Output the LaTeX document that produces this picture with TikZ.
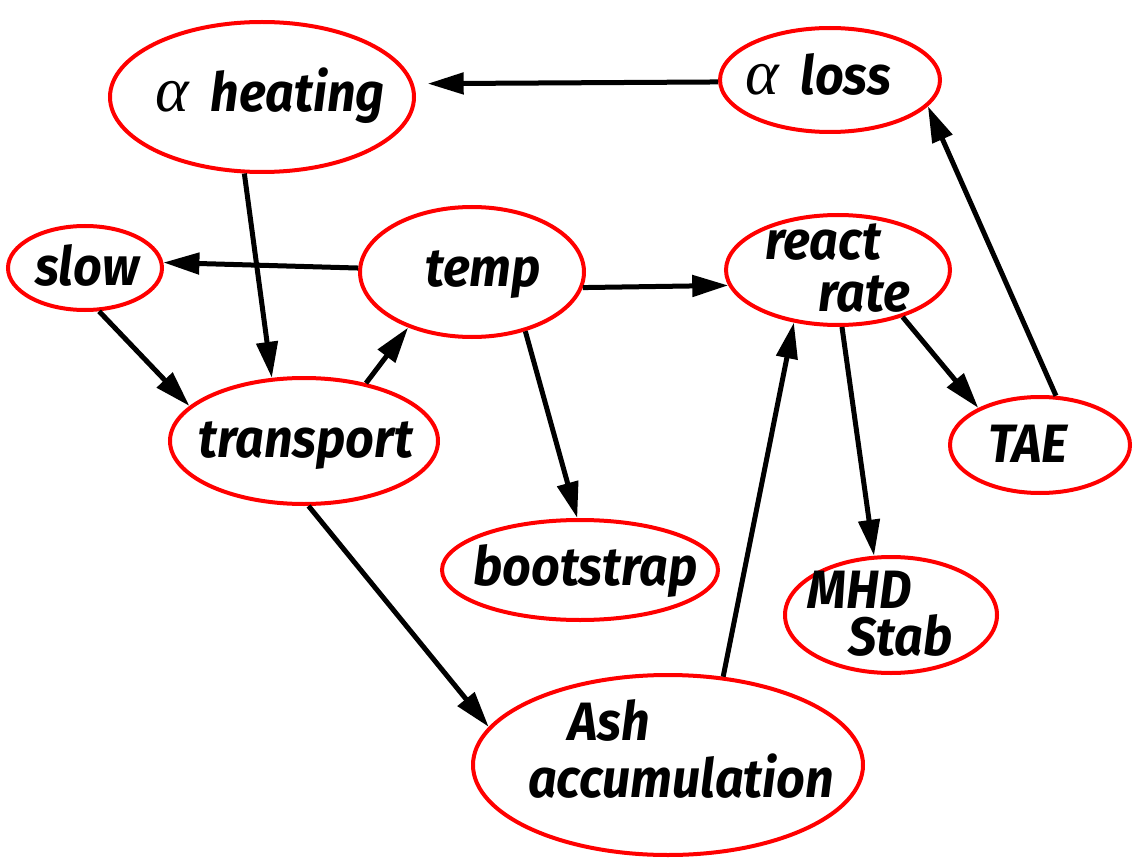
\documentclass[tikz,border=0pt]{standalone}
\usepackage{fontspec}
\setmainfont{Fira Sans}[FakeStretch=0.93]
\newfontfamily\grk{Liberation Serif}
\newcommand{\alf}{{\grk\mdseries\itshape\fontsize{64}{66}\selectfont α}\hspace{22pt}}
\usetikzlibrary{shapes.geometric,arrows.meta}
\begin{document}
\begin{tikzpicture}[x=1pt,y=-1pt,
  oval/.style={ellipse,draw=red,line width=4pt,inner sep=0pt},
  lbl/.style={anchor=base west,inner sep=0pt,font=\fontsize{54}{60}\selectfont\bfseries\itshape},
  arr/.style={line width=5pt,-{Triangle[length=36pt,width=21pt]}}]
\useasboundingbox (0,0) rectangle (1133,861);
% ellipses
\node[oval,minimum width=304pt,minimum height=150pt] (aheat) at (262,97) {};
\node[oval,minimum width=220pt,minimum height=104pt] (aloss) at (830,80) {};
\node[oval,minimum width=154pt,minimum height=84pt] (slow) at (85,268) {};
\node[oval,minimum width=224pt,minimum height=130pt] (temp) at (472,272) {};
\node[oval,minimum width=224pt,minimum height=110pt] (react) at (838,270) {};
\node[oval,minimum width=268pt,minimum height=126pt] (transport) at (304,441) {};
\node[oval,minimum width=180pt,minimum height=96pt] (tae) at (1040,445) {};
\node[oval,minimum width=276pt,minimum height=100pt] (boot) at (580,570) {};
\node[oval,minimum width=212pt,minimum height=116pt] (mhd) at (891,615) {};
\node[oval,minimum width=390pt,minimum height=180pt] (ash) at (668,765) {};
% labels
\node[lbl] (taheat) at (155,112) {\alf heating};
\node[lbl] (taloss) at (745,95) {\alf loss};
\node[lbl] (tslow) at (35,285) {slow};
\node[lbl] (ttemp) at (425,287) {temp};
\node[lbl] (treact) at (765,260) {react};
\node[lbl] (trate) at (818,312) {rate};
\node[lbl] (ttransport) at (198,457) {transport};
\node[lbl] (ttae) at (988,462) {TAE};
\node[lbl] (tboot) at (473,585) {bootstrap};
\node[lbl] (tmhd) at (807,608) {MHD};
\node[lbl] (tstab) at (848,655) {Stab};
\node[lbl] (tash) at (568,740) {Ash};
\node[lbl] (taccum) at (528,797) {accumulation};
% arrows
\draw[arr,shorten >=14pt] (aloss.181) -- (aheat.5);
\draw[arr] (tae.72) -- (aloss.-15);
\draw[arr] (aheat.-103) -- (transport.117);
\draw[arr] (temp.178) -- (slow.4);
\draw[arr] (slow.-72) -- (transport.163);
\draw[arr] (transport.43) -- (temp.-139);
\draw[arr] (temp.-8) -- (react.188);
\draw[arr] (temp.-48) -- (boot.93);
\draw[arr] (react.-86) -- (mhd.106);
\draw[arr] (react.-36) -- (tae.149);
\draw[arr] (transport.-86) -- (ash.168);
\draw[arr] (ash.58) -- (react.-130);
\end{tikzpicture}
\end{document}
